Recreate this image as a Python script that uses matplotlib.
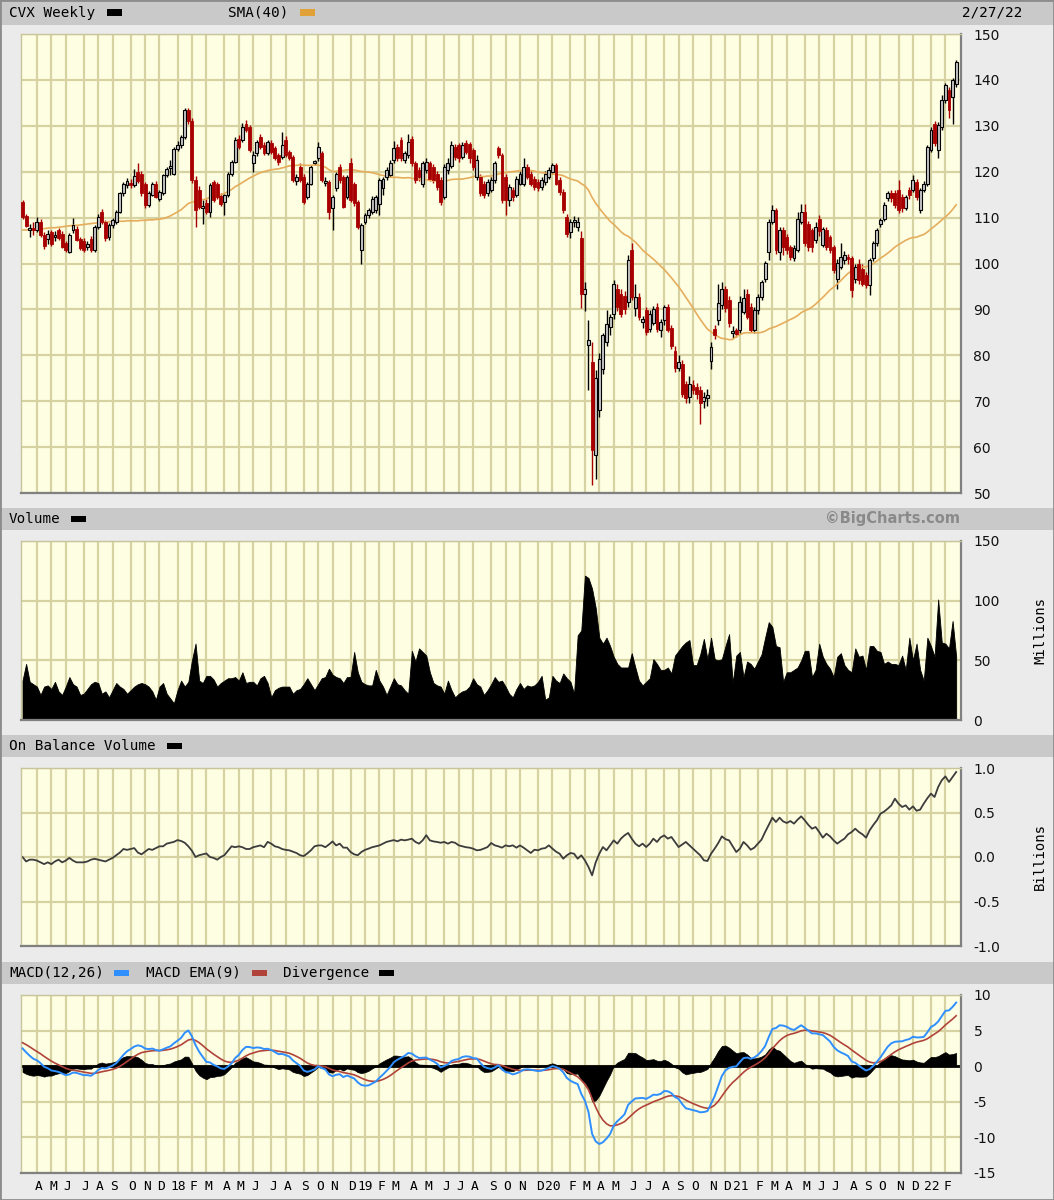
import numpy as np
import pandas as pd
import matplotlib
matplotlib.use("Agg")
import matplotlib.pyplot as plt
import matplotlib.transforms as mtransforms
from matplotlib.patches import Rectangle

plt.rcParams['axes.unicode_minus'] = False

# ---------------- data (weekly, first bar = week ending 2017-03-10) ----------------
start_date = "2017-03-10"

opens = [
113.4,110.4,107.4,107.6,107.3,109.0,106.2,105.4,106.8,105.8,
107.3,106.5,104.4,102.6,107.3,107.6,105.4,105.0,103.6,105.4,
102.9,108.0,111.3,109.0,105.8,108.4,109.0,111.3,115.3,117.0,
117.6,117.0,120.0,119.6,117.4,112.7,115.0,117.4,114.0,115.3,
119.3,120.8,119.6,125.0,125.8,127.6,133.4,131.0,118.2,116.0,
112.2,113.1,111.3,117.8,117.4,114.8,113.4,114.9,119.6,122.2,
127.2,126.9,130.5,129.8,122.0,124.0,127.6,125.8,124.0,126.2,
125.1,123.6,123.3,126.9,124.3,123.2,118.0,121.1,118.9,114.5,
117.4,121.9,122.9,124.0,117.6,117.8,112.0,116.4,121.1,118.9,
114.5,121.8,117.4,113.4,102.9,109.1,110.5,111.3,111.6,113.0,
116.4,118.9,119.3,122.5,125.4,126.9,122.5,123.6,127.2,121.8,
120.4,117.4,120.4,121.8,121.1,119.6,118.2,114.5,120.4,121.3,
125.4,125.8,123.3,126.2,126.0,124.7,118.9,118.9,117.4,115.3,
116.0,118.2,125.1,123.6,118.9,113.8,116.0,115.0,117.4,117.4,
121.1,119.6,118.5,117.8,116.7,117.8,118.9,120.0,121.4,118.2,
115.6,110.2,106.9,109.0,108.0,105.6,93.4,82.2,78.6,58.3,
68.0,77.0,83.0,86.2,89.1,94.5,93.4,93.0,91.7,103.0,
90.2,92.7,87.3,89.8,85.8,87.0,90.5,85.5,87.6,90.5,
86.0,81.0,77.3,78.2,73.8,71.0,73.5,73.0,72.4,70.0,
70.6,78.8,85.8,87.6,91.0,94.5,92.0,84.8,85.5,85.5,
89.5,93.4,90.5,85.5,89.8,92.7,96.7,102.5,109.1,111.6,
102.5,107.3,105.8,103.6,101.1,102.9,109.1,111.3,108.7,107.3,
105.1,109.8,104.0,107.3,105.8,103.6,96.7,99.3,100.7,101.5,
101.1,96.7,100.0,98.9,97.5,95.3,101.1,104.4,108.7,109.8,
114.2,115.3,115.3,116.0,114.5,112.0,116.0,116.0,117.8,111.6,
116.0,117.4,124.7,130.5,124.7,129.8,135.6,137.8,136.3,139.2,
]

highs = [
113.8,110.8,108.7,109.0,110.2,109.6,106.8,107.4,107.2,107.0,
107.8,107.0,104.8,106.6,110.0,108.2,105.8,105.6,105.0,105.9,
108.4,110.8,111.8,109.4,108.8,110.0,111.6,115.6,117.8,118.6,
118.4,120.5,122.0,120.2,117.8,115.8,117.8,118.0,116.0,119.6,
121.0,122.6,125.4,126.6,128.0,133.8,133.9,131.6,119.0,116.8,
113.8,114.0,117.6,118.2,117.8,115.4,115.2,120.0,122.6,127.6,
128.0,130.6,131.2,130.2,124.6,127.0,128.2,126.4,126.9,126.8,
125.6,124.0,128.6,127.8,124.8,123.6,119.6,121.8,119.4,117.8,
121.4,122.6,126.4,124.5,118.9,118.2,115.0,120.0,121.6,119.3,
119.3,123.0,117.8,113.8,108.9,111.0,112.0,114.6,115.0,118.6,
118.9,121.0,122.5,126.7,126.0,127.6,124.6,128.2,127.8,122.4,
121.0,122.4,123.0,122.4,121.6,120.2,118.8,121.6,123.0,126.6,
126.0,126.2,126.4,127.0,126.4,125.2,123.6,119.4,118.0,118.4,
118.8,122.4,125.6,124.0,119.4,117.4,116.6,119.0,120.2,123.0,
121.6,120.2,119.0,118.4,118.8,120.2,121.0,122.0,122.0,118.8,
116.2,110.8,109.8,110.4,110.2,107.0,96.0,87.6,83.0,76.8,
80.5,84.8,89.8,89.0,96.5,95.5,94.5,94.0,101.8,104.4,
95.6,93.5,88.6,90.5,89.8,90.8,91.5,88.0,91.0,91.2,
86.6,82.0,80.0,79.0,74.5,75.5,74.6,74.0,73.4,72.0,
72.6,83.0,86.5,95.6,96.0,95.0,93.0,86.4,86.0,93.0,
94.5,94.5,91.5,90.5,93.4,96.5,100.5,109.6,112.7,112.0,
108.0,108.0,106.5,104.0,104.0,111.3,113.0,113.0,109.2,107.8,
109.0,110.5,108.0,108.0,106.2,104.0,101.0,104.4,102.8,102.0,
101.6,100.0,101.0,99.8,98.2,101.2,105.0,107.8,110.0,113.3,
115.8,116.0,116.0,118.2,115.2,115.0,116.6,119.3,118.4,116.5,
118.0,125.8,129.8,131.0,130.8,136.7,139.4,138.4,140.5,144.4,
]

lows = [
109.8,107.9,105.8,106.2,106.8,105.8,103.2,104.2,103.8,105.0,
105.2,103.4,102.4,102.2,106.6,104.8,102.9,102.6,103.0,102.6,
102.4,107.6,108.5,104.9,105.2,107.8,108.6,111.0,114.8,116.4,
116.4,116.6,117.6,114.8,112.2,112.3,114.6,114.2,113.6,115.0,
118.8,119.2,119.2,124.6,125.2,127.2,130.4,117.6,108.0,111.8,
108.7,110.8,110.2,113.4,114.0,112.6,110.5,114.5,119.0,121.8,
125.0,126.5,128.6,124.3,120.0,123.4,125.0,123.6,123.6,123.9,
122.5,121.5,122.8,123.2,122.5,117.8,117.2,117.8,113.0,114.0,
117.0,121.4,122.4,117.8,116.8,109.6,107.3,115.8,117.6,112.0,
114.0,113.4,112.6,107.6,100.0,108.6,110.0,110.8,111.0,110.6,
115.0,118.3,118.8,122.0,122.4,122.4,121.8,123.0,121.2,117.6,
118.0,116.6,119.8,118.0,117.6,116.0,112.7,114.0,119.6,120.8,
122.6,122.2,122.8,123.8,122.0,120.4,118.2,114.6,114.2,114.8,
115.5,117.6,123.0,113.2,110.5,112.5,113.6,114.5,117.0,116.8,
118.4,116.8,116.0,115.8,116.0,117.2,118.5,119.6,117.0,115.0,
111.0,105.8,105.6,108.0,107.0,90.2,89.6,72.4,51.7,53.0,
66.5,76.0,82.0,84.5,88.0,89.6,88.4,89.0,90.5,92.0,
88.5,87.6,86.0,84.4,85.0,86.5,85.0,84.0,86.5,85.0,
81.4,76.4,76.5,71.0,69.5,69.5,71.5,70.5,65.1,68.5,
69.0,77.0,83.5,86.5,90.0,89.5,86.2,83.8,84.0,84.8,
89.0,88.0,85.0,84.8,89.0,92.0,96.0,100.7,108.5,102.0,
100.7,101.8,102.0,100.8,100.5,102.5,108.5,103.8,102.8,102.5,
104.5,106.0,103.5,103.0,102.2,98.0,94.5,98.8,100.0,100.0,
92.7,95.8,95.5,95.0,94.6,93.1,100.5,103.8,108.0,109.3,
113.6,113.5,112.0,111.0,111.3,111.6,114.0,115.5,113.8,110.9,
115.5,116.8,124.2,125.6,123.0,129.0,135.0,131.6,130.5,138.5,
]

closes = [
110.2,108.2,107.7,107.4,109.0,106.2,103.8,106.4,104.2,106.2,
105.5,103.7,102.9,106.2,108.4,105.1,103.3,102.9,104.2,102.9,
108.0,110.2,109.0,105.5,108.4,109.4,111.3,115.3,117.4,118.0,
117.2,119.0,118.0,115.3,112.7,115.3,117.4,114.5,115.5,119.3,
120.5,121.0,125.0,125.8,127.6,133.4,131.0,118.2,111.6,112.4,
112.6,111.3,117.1,113.8,114.5,113.0,114.9,119.6,122.2,126.9,
125.4,129.8,129.1,124.7,123.6,126.5,125.4,124.0,126.5,124.3,
122.9,122.1,125.8,123.6,122.9,118.2,118.9,118.2,113.4,117.4,
121.1,122.2,125.4,118.2,117.8,111.3,114.5,119.6,118.2,112.4,
118.9,113.8,113.1,108.0,108.4,110.5,111.6,114.1,114.5,118.2,
118.5,120.4,121.8,125.1,122.9,122.9,124.0,126.5,121.8,118.2,
118.9,121.8,122.2,118.5,118.2,116.7,113.4,121.1,121.8,125.8,
123.3,122.9,125.8,124.3,122.9,121.1,122.5,115.3,114.9,117.8,
118.2,121.8,123.6,113.8,113.8,116.7,114.5,118.5,119.6,121.1,
118.9,117.4,116.7,116.4,118.2,119.6,120.4,121.4,117.4,115.6,
111.6,106.5,109.1,109.4,109.1,93.4,94.5,83.3,59.3,75.0,
79.3,84.4,86.9,88.4,95.6,90.5,89.1,90.0,100.7,92.7,
92.7,88.4,87.8,85.1,89.1,90.0,85.8,87.3,90.5,85.5,
82.0,77.3,78.6,71.6,70.6,73.8,72.4,71.6,69.5,70.9,
71.3,81.8,84.4,91.3,94.5,90.2,87.0,85.2,84.6,91.7,
92.5,88.4,85.5,89.8,92.7,96.0,100.0,109.1,111.6,102.9,
107.3,103.6,102.9,101.5,103.3,109.8,111.3,104.4,103.6,103.6,
108.0,107.0,107.6,103.6,102.9,98.5,100.0,101.5,101.8,100.9,
94.2,99.3,96.4,95.6,95.3,100.7,104.4,107.3,109.4,112.7,
115.3,114.2,112.7,111.6,112.0,114.5,114.9,118.2,114.5,116.0,
117.4,125.4,129.1,126.2,130.2,135.6,138.9,133.4,140.0,144.0,
]

volume_m = [
33,47,32,30,28,21,28,29,26,32,
24,21,28,36,30,28,21,22,26,30,
32,31,22,24,19,25,31,28,26,22,
25,28,30,31,30,28,24,17,28,31,
22,18,14,25,33,28,32,50,64,33,
31,37,37,34,28,31,33,35,35,36,
33,40,31,32,32,29,35,37,31,19,
25,27,28,28,28,22,25,26,30,35,
30,25,30,35,36,43,38,36,35,31,
36,36,57,40,32,30,29,29,42,33,
28,21,28,35,30,29,25,22,58,49,
60,57,54,40,31,29,28,22,33,25,
19,22,24,25,28,35,30,28,21,25,
30,36,32,33,28,22,19,26,31,26,
29,28,29,32,37,17,19,37,33,31,
39,35,32,22,71,75,121,119,110,94,
69,64,69,62,53,47,44,44,44,56,
44,33,29,32,35,51,47,42,42,44,
39,54,58,62,65,67,46,46,55,68,
51,69,51,50,51,62,72,31,54,57,
36,49,47,43,49,55,69,82,78,62,
61,32,40,40,42,44,50,58,58,36,
42,64,53,47,43,36,53,56,46,42,
40,60,53,54,42,62,62,58,57,47,
49,47,47,46,54,42,69,50,64,42,
33,69,62,53,101,65,64,60,83,53,
]

obv_b = [
0.00,-0.05,-0.03,-0.03,-0.04,-0.06,-0.08,-0.06,-0.08,-0.05,
-0.03,-0.06,-0.04,-0.01,-0.04,-0.06,-0.06,-0.06,-0.05,-0.03,
-0.02,-0.03,-0.04,-0.05,-0.03,-0.01,0.02,0.05,0.09,0.08,
0.09,0.10,0.05,0.03,0.06,0.09,0.08,0.10,0.12,0.12,
0.15,0.16,0.17,0.19,0.18,0.16,0.12,0.07,0.00,0.02,
0.03,0.04,0.00,-0.01,-0.03,0.00,0.02,0.07,0.12,0.11,
0.12,0.11,0.09,0.09,0.11,0.12,0.13,0.11,0.17,0.15,
0.12,0.11,0.09,0.08,0.075,0.06,0.045,0.02,0.01,0.04,
0.075,0.12,0.13,0.13,0.11,0.14,0.175,0.13,0.15,0.105,
0.105,0.056,0.03,0.02,0.056,0.08,0.094,0.11,0.12,0.13,
0.15,0.17,0.18,0.19,0.176,0.195,0.187,0.195,0.206,0.169,
0.15,0.187,0.245,0.187,0.175,0.169,0.16,0.169,0.15,0.169,
0.16,0.131,0.12,0.11,0.105,0.094,0.075,0.08,0.095,0.112,
0.157,0.131,0.12,0.105,0.131,0.12,0.131,0.105,0.13,0.105,
0.075,0.045,0.082,0.075,0.094,0.10,0.131,0.094,0.06,0.037,
-0.019,0.019,0.045,0.037,-0.019,0.019,-0.037,-0.112,-0.206,-0.06,
0.037,0.112,0.075,0.131,0.187,0.15,0.206,0.243,0.27,0.206,
0.15,0.12,0.15,0.112,0.15,0.206,0.169,0.22,0.243,0.206,
0.225,0.169,0.112,0.14,0.169,0.131,0.094,0.056,0.019,-0.037,
-0.045,0.037,0.094,0.157,0.232,0.20,0.187,0.12,0.056,0.094,
0.169,0.131,0.082,0.105,0.15,0.195,0.281,0.36,0.442,0.393,
0.442,0.40,0.382,0.404,0.375,0.419,0.457,0.412,0.36,0.318,
0.337,0.281,0.217,0.262,0.232,0.187,0.15,0.18,0.206,0.255,
0.281,0.318,0.281,0.255,0.217,0.30,0.36,0.412,0.487,0.51,
0.543,0.58,0.655,0.599,0.562,0.58,0.532,0.569,0.52,0.532,
0.60,0.66,0.712,0.674,0.787,0.862,0.906,0.843,0.899,0.955,
]

# SMA(40) values shown before 40 weeks of closes are available
sma_head = [
107.3,107.3,107.4,107.4,107.5,107.5,107.6,107.7,107.8,107.8,
107.9,108.0,108.1,108.2,108.3,108.3,108.4,108.5,108.6,108.7,
108.8,108.9,109.0,109.0,109.1,109.1,109.2,109.2,109.2,109.3,
109.3,109.3,109.3,109.4,109.4,109.5,109.5,109.6,109.7,
]
# MACD state at the first bar
ema12_start = 112.7
ema26_start = 110.2
signal_start = 3.3

price_ticks = [50, 60, 70, 80, 90, 100, 110, 120, 130, 140, 150]
volume_ticks = [0, 50, 100, 150]
obv_ticks = [-1.0, -0.5, 0.0, 0.5, 1.0]
macd_ticks = [-15, -10, -5, 0, 5, 10]

# ---------------- derived series ----------------
O = np.array(opens); Hh = np.array(highs); L = np.array(lows); C = np.array(closes)
n = len(C)
idx = np.arange(n)
dates = pd.date_range(start_date, periods=n, freq="7D")

sma = pd.Series(C).rolling(40).mean().values
sma[:len(sma_head)] = sma_head

a12, a26, a9 = 2/13, 2/27, 2/10
ema12 = np.zeros(n); ema26 = np.zeros(n); sig = np.zeros(n)
ema12[0] = ema12_start; ema26[0] = ema26_start
for i in range(1, n):
    ema12[i] = ema12[i-1] + a12*(C[i]-ema12[i-1])
    ema26[i] = ema26[i-1] + a26*(C[i]-ema26[i-1])
macd = ema12 - ema26
sig[0] = signal_start
for i in range(1, n):
    sig[i] = sig[i-1] + a9*(macd[i]-sig[i-1])
hist = macd - sig

# month starts
month_idx = [i for i in range(1, n) if dates[i].month != dates[i-1].month]
month_lab = []
for i in month_idx:
    d = dates[i]
    month_lab.append(f"{d.year % 100:02d}" if d.month == 1 else "JFMAMJJASOND"[d.month-1])

# ---------------- figure ----------------
W, H = 1054, 1200
fig = plt.figure(figsize=(W/100, H/100), dpi=100)
BG = "#ebebeb"; BAND = "#c9c9c9"; PANEL = "#fefee3"; GRID = "#d6d2a2"
fig.patch.set_facecolor(BG)

MONO = "DejaVu Sans Mono"
SANS = "DejaVu Sans"

def fx(x): return x / W
def fy(y): return 1 - y / H

def band(y0, y1):
    fig.patches.append(Rectangle((0, fy(y1)), 1, (y1-y0)/H, transform=fig.transFigure,
                                 facecolor=BAND, edgecolor="none", zorder=0))

def swatch(x, yc, color):
    fig.patches.append(Rectangle((fx(x), fy(yc+3)), 15/W, 6/H, transform=fig.transFigure,
                                 facecolor=color, edgecolor="none", zorder=2))

def header_text(x, yc, s, **kw):
    fig.text(fx(x), fy(yc), s, fontsize=10.3, family=MONO, va="center", ha="left", **kw)

XL = 21; XR = 961
xmin = -(22.5 - XL) / 3.605
xmax = (n - 1) + (XR - (22.5 + 3.605*(n-1))) / 3.605

def make_ax(y0, y1):
    ax = fig.add_axes([fx(XL), fy(y1), (XR-XL)/W, (y1-y0)/H])
    ax.set_facecolor(PANEL)
    ax.set_xlim(xmin, xmax)
    for i in month_idx:
        ax.axvline(i, color=GRID, lw=1.6, zorder=0.5)
    ax.yaxis.tick_right()
    ax.tick_params(axis="y", length=0, pad=9, labelsize=10, labelcolor="#111111")
    ax.tick_params(axis="x", length=0, labelbottom=False)
    ax.set_xticks([])
    for s in ("left", "top"):
        ax.spines[s].set_color("#c9c59a"); ax.spines[s].set_linewidth(1.0)
    for s in ("right", "bottom"):
        ax.spines[s].set_color("#808080"); ax.spines[s].set_linewidth(1.6)
    return ax

def hgrid(ax, ticks):
    for t in ticks:
        ax.axhline(t, color=GRID, lw=1.6, zorder=0.5)

# header bands
band(0, 25); band(508, 530); band(735, 757); band(962, 984)

header_text(9, 12.5, "CVX Weekly")
swatch(107, 12.5, "black")
header_text(228, 12.5, "SMA(40)")
swatch(300, 12.5, "#e0a238")
fig.text(fx(1022), fy(12.5), "2/27/22", fontsize=10.3, family=MONO, va="center", ha="right")

header_text(9, 519, "Volume")
swatch(71, 519, "black")
fig.text(fx(960), fy(518.5), "\u00a9BigCharts.com", fontsize=10.5, family=SANS, weight="bold",
         color="#8a8a8a", va="center", ha="right")

header_text(9, 746, "On Balance Volume")
swatch(167, 746, "black")

header_text(9, 973, "MACD(12,26)")
swatch(114, 973, "#2f8fff")
header_text(146, 973, "MACD EMA(9)")
swatch(252, 973, "#b0443a")
header_text(283, 973, "Divergence")
swatch(379, 973, "black")

# ---------------- price panel ----------------
axp = make_ax(34, 493)
axp.set_ylim(50, 150)
axp.set_yticks(price_ticks)
axp.set_yticklabels([str(t) for t in price_ticks], family=SANS)
hgrid(axp, price_ticks)

up = C >= O
RED = "#a80000"
axp.vlines(idx[up], L[up], Hh[up], color="black", lw=1.0, zorder=2)
axp.vlines(idx[~up], L[~up], Hh[~up], color=RED, lw=1.0, zorder=2)
lo = np.minimum(O, C)
hgt = np.maximum(np.abs(C - O), 0.35)
axp.bar(idx[up], hgt[up], bottom=lo[up], width=0.8, color="#c6c6c6",
        edgecolor="black", linewidth=0.8, zorder=3)
axp.bar(idx[~up], hgt[~up], bottom=lo[~up], width=0.8, color=RED,
        edgecolor=RED, linewidth=0.6, zorder=3)
axp.plot(idx, sma, color="#e5ad5c", lw=1.2, zorder=2.5)

# ---------------- volume panel ----------------
axv = make_ax(541, 720)
axv.set_ylim(0, 150)
axv.set_yticks(volume_ticks)
axv.set_yticklabels([str(t) for t in volume_ticks], family=SANS)
hgrid(axv, volume_ticks)
axv.fill_between(idx, 0, volume_m, color="black", lw=0.6, zorder=2)
fig.text(fx(1040), fy(631), "Millions", rotation=90, family=MONO, fontsize=10,
         va="center", ha="center")

# ---------------- OBV panel ----------------
axo = make_ax(768, 946)
axo.set_ylim(-1.0, 1.0)
axo.set_yticks(obv_ticks)
axo.set_yticklabels([f"{t:.1f}" for t in obv_ticks], family=SANS)
hgrid(axo, obv_ticks)
axo.plot(idx, obv_b, color="#3c3c3c", lw=1.3, zorder=2)
fig.text(fx(1040), fy(857), "Billions", rotation=90, family=MONO, fontsize=10,
         va="center", ha="center")

# ---------------- MACD panel ----------------
axm = make_ax(995, 1173)
axm.set_ylim(-15, 10)
axm.set_yticks(macd_ticks)
axm.set_yticklabels([str(t) for t in macd_ticks], family=SANS)
hgrid(axm, macd_ticks)
axm.fill_between(idx, 0, hist, color="black", lw=0.5, zorder=2)
axm.axhline(0, color="black", lw=2.0, zorder=2.2)
axm.plot(idx, sig, color="#b0443a", lw=1.2, zorder=3)
axm.plot(idx, macd, color="#2f8fff", lw=1.4, zorder=3.2)

trans = mtransforms.blended_transform_factory(axm.transData, fig.transFigure)
for i, lab in zip(month_idx, month_lab):
    off = 0.1 if len(lab) == 2 else 0.5
    axm.text(i + off, fy(1186), lab, transform=trans, family=MONO, fontsize=9.3,
             ha="center", va="center", clip_on=False)

# outer border
fig.patches.append(Rectangle((0, 0), 1, 1, transform=fig.transFigure, facecolor="none",
                             edgecolor="#8c8c8c", lw=2, zorder=5))

fig.savefig("out.png", dpi=100, facecolor=fig.get_facecolor())
